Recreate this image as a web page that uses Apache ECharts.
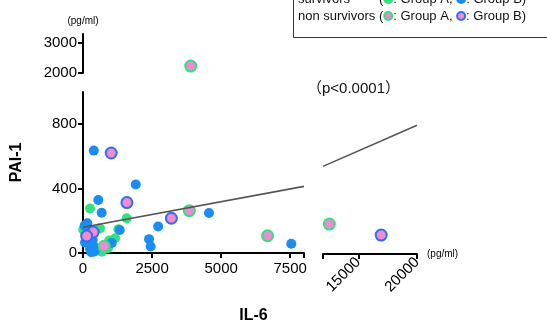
<!DOCTYPE html>
<html><head><meta charset="utf-8">
<script src="https://cdn.jsdelivr.net/npm/echarts@6/dist/echarts.min.js"></script>
<style>html,body{margin:0;padding:0;background:#fff}#c{width:547px;height:325px}</style>
</head><body><div id="c"></div>
<script>
// survivors, group A (green)
const survA = [[10,144],[253,276],[615,152],[1580,216],[1280,148],[1160,92],[950,78],[900,30],[680,8],[560,18]];
// survivors, group B (blue)
const survB = [[390,636],[1910,425],[554,329],[676,250],[2720,165],[4560,249],[1330,143],[2390,86],[2450,40],[7540,57],[1040,62],[155,185],[60,170],[200,140],[313,56],[193,86],[434,35],[253,25],[72,65],[150,110],[350,80],[420,10],[300,5]];
// non survivors, group A (pink, green ring) — lower-left, upper-left, lower-right panels
const nonA_low = [[3850,263],[6680,107],[770,42]];
const nonA_high = [[3900,2230]];
const nonA_right = [[12540,185]];
// non survivors, group B (pink, blue ring)
const nonB_low = [[1020,621],[1590,313],[3200,216],[370,130],[133,105]];
const nonB_right = [[16950,117]];
// regression line endpoints
const regLeft = [[0,160],[8000,414]];
const regRight = [[12000,541],[20000,795]];
// ticks
const xTicksLeft = [0,2500,5000,7500];
const xTicksRight = [15000,20000];
const yTicksLow = [0,400,800];
const yTicksHigh = [2000,3000];

const GREEN = '#33e080', BLUE = '#1a8cf2', PINK = '#f08ad2', RINGB = '#2f6ff0';
const FONT = 'Liberation Sans, Arial, sans-serif';
const fmt = v => String(v);
const lbl = {color:'#000', fontSize:15, fontFamily:FONT, formatter:fmt};
const line = {lineStyle:{color:'#000', width:2}};

const chart = echarts.init(document.getElementById('c'), null, {renderer:'canvas'});
function sc(name, data, xi, yi, color, border, size){
  return {type:'scatter', name, data, xAxisIndex:xi, yAxisIndex:yi, symbolSize:size,
    itemStyle:{color, borderColor:border||color, borderWidth:border?2:0, opacity:1}, z:3, silent:true};
}
// legend row builder: parts are strings or {fill, ring}
const mctx = document.createElement('canvas').getContext('2d');
const LFONT = '13px ' + FONT;
mctx.font = LFONT;
function legendRow(x, yMid, parts){
  const els = [];
  let cx = x;
  parts.forEach(p => {
    if (typeof p === 'string') {
      els.push({type:'text', x:cx, y:yMid, z:11,
        style:{text:p, font:LFONT, fill:'#111', textVerticalAlign:'middle', verticalAlign:'middle'}});
      cx += mctx.measureText(p).width;
    } else {
      els.push({type:'circle', z:11, shape:{cx:cx+5, cy:yMid, r:4},
        style:{fill:p.fill, stroke:p.ring, lineWidth:2}});
      cx += 10;
    }
  });
  return els;
}
const row1 = legendRow(379, -1, ['(', {fill:GREEN, ring:GREEN}, ': Group A, ', {fill:BLUE, ring:BLUE}, ': Group B)']);
const row2 = legendRow(298, 16, ['non survivors (', {fill:PINK, ring:GREEN}, ': Group A, ', {fill:PINK, ring:RINGB}, ': Group B)']);

chart.setOption({
  animation:false,
  grid:[
    {left:83, top:92, width:221, height:162},
    {left:83, top:34, width:221, height:39},
    {left:323, top:92, width:94, height:162}
  ],
  xAxis:[
    {gridIndex:0, type:'value', min:0, max:8000, interval:2500,
     axisLine:{show:true, onZero:false, ...line}, splitLine:{show:false},
     axisTick:{show:true, length:5, customValues:[0,2500,5000,7500,8000], lineStyle:{width:2,color:'#000'}},
     axisLabel:{...lbl, customValues:xTicksLeft, margin:8},
     name:'IL-6', nameLocation:'middle', nameGap:55,
     nameTextStyle:{fontSize:16, fontWeight:'bold', fontFamily:FONT, color:'#000', padding:[0,0,0,120]}},
    {gridIndex:1, type:'value', min:0, max:8000, show:false},
    {gridIndex:2, type:'value', min:12000, max:20000,
     axisLine:{show:true, onZero:false, ...line}, splitLine:{show:false},
     axisTick:{show:true, length:5, customValues:[12000,15000,20000], lineStyle:{width:2,color:'#000'}},
     axisLabel:{...lbl, customValues:xTicksRight, rotate:45, margin:6},
     name:'(pg/ml)', nameLocation:'end', nameGap:10,
     nameTextStyle:{fontSize:10, fontFamily:FONT, color:'#000'}}
  ],
  yAxis:[
    {gridIndex:0, type:'value', min:0, max:1000,
     axisLine:{show:true, onZero:false, ...line}, splitLine:{show:false},
     axisTick:{show:true, length:5, customValues:[0,400,800], lineStyle:{width:2,color:'#000'}},
     axisLabel:{...lbl, customValues:yTicksLow, margin:6},
     name:'PAI-1', nameLocation:'middle', nameGap:58, nameRotate:90,
     nameTextStyle:{fontSize:16, fontWeight:'bold', fontFamily:FONT, color:'#000', padding:[0,0,0,20]}},
    {gridIndex:1, type:'value', min:2000, max:3300,
     axisLine:{show:true, onZero:false, ...line}, splitLine:{show:false},
     axisTick:{show:true, length:5, customValues:[2000,3000], lineStyle:{width:2,color:'#000'}},
     axisLabel:{...lbl, customValues:yTicksHigh, margin:6},
     name:'(pg/ml)', nameLocation:'end', nameGap:8,
     nameTextStyle:{fontSize:10, fontFamily:FONT, color:'#000', align:'center'}},
    {gridIndex:2, type:'value', min:0, max:1000, show:false}
  ],
  series:[
    sc('sA', survA, 0, 0, GREEN, null, 10),
    sc('sB', survB, 0, 0, BLUE, null, 10),
    sc('nA', nonA_low, 0, 0, PINK, GREEN, 11),
    sc('nB', nonB_low, 0, 0, PINK, RINGB, 11),
    sc('nA2', nonA_high, 1, 1, PINK, GREEN, 11),
    sc('nA3', nonA_right, 2, 2, PINK, GREEN, 11),
    sc('nB3', nonB_right, 2, 2, PINK, RINGB, 11),
    {type:'line', data:regLeft, xAxisIndex:0, yAxisIndex:0, symbol:'none', z:5, silent:true,
     lineStyle:{color:'#555', width:1.6}},
    {type:'line', data:regRight, xAxisIndex:2, yAxisIndex:2, symbol:'none', z:5, silent:true,
     lineStyle:{color:'#555', width:1.6}}
  ],
  graphic:[
    {type:'rect', left:293, top:-5, shape:{width:270, height:42},
     style:{fill:'#fff', stroke:'#333', lineWidth:1}, z:10},
    {type:'text', x:298, y:-1, z:11,
     style:{text:'survivors', font:LFONT, fill:'#111', verticalAlign:'middle'}},
    ...row1, ...row2,
    {type:'text', left:307, top:81, z:11,
     style:{text:'（p<0.0001）', font:'15px '+FONT+', Noto Sans CJK JP', fill:'#111'}}
  ]
});
</script></body></html>
